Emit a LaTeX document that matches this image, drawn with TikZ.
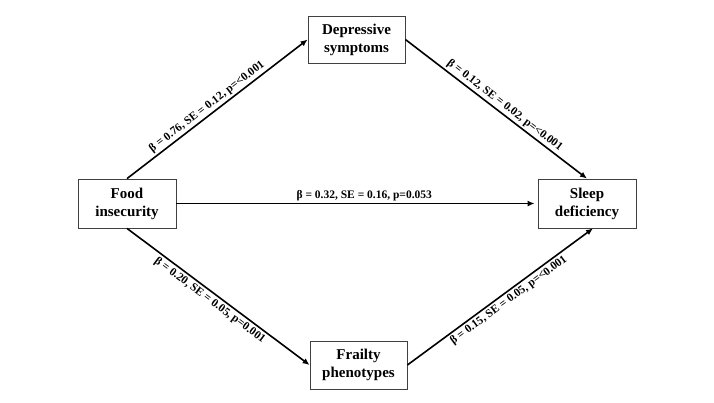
\documentclass[tikz,border=0pt]{standalone}
\usepackage{fontspec}
\setmainfont{Liberation Serif}
\usetikzlibrary{arrows.meta}
\begin{document}
\begin{tikzpicture}[x=1pt,y=-1pt,
  box/.style={draw=black!75,line width=0.8pt,align=center,font=\fontsize{15}{18}\selectfont\bfseries,inner sep=0pt},
  arr/.style={line width=1.6pt,-{Latex[length=7pt,width=6pt]}},
  lab/.style={font=\fontsize{11.5}{13}\selectfont\bfseries,sloped,inner sep=2pt}]
\useasboundingbox (0,0) rectangle (714,402);
\node[box,minimum width=98pt,minimum height=49pt] (fi) at (127,203.5) {Food\\insecurity};
\node[box,minimum width=97pt,minimum height=47pt] (dep) at (356.5,39.5) {Depressive\\symptoms};
\node[box,minimum width=98pt,minimum height=49pt] (sl) at (587,203.5) {Sleep\\deficiency};
\node[box,minimum width=97pt,minimum height=48pt] (fr) at (358.5,365) {Frailty\\phenotypes};
\draw[arr] (fi.north) -- node[lab,above,pos=0.47] {β = 0.76, SE = 0.12, p=<0.001} (dep.west);
\draw[arr] (dep.east) -- node[lab,above,pos=0.52] {β = 0.12, SE = 0.02, p=<0.001} (sl.north);
\draw[arr,shorten >=3pt] (fi.east) -- node[lab,above,pos=0.52] {β = 0.32, SE = 0.16, p=0.053} (sl.west);
\draw[arr] (fi.south) -- node[lab,below,pos=0.48] {β = 0.20, SE = 0.05, p=0.001} (fr.west);
\draw[arr] (fr.east) -- node[lab,below,pos=0.52] {β = 0.15, SE = 0.05, p=<0.001} ([xshift=6pt]sl.south);
\end{tikzpicture}
\end{document}
